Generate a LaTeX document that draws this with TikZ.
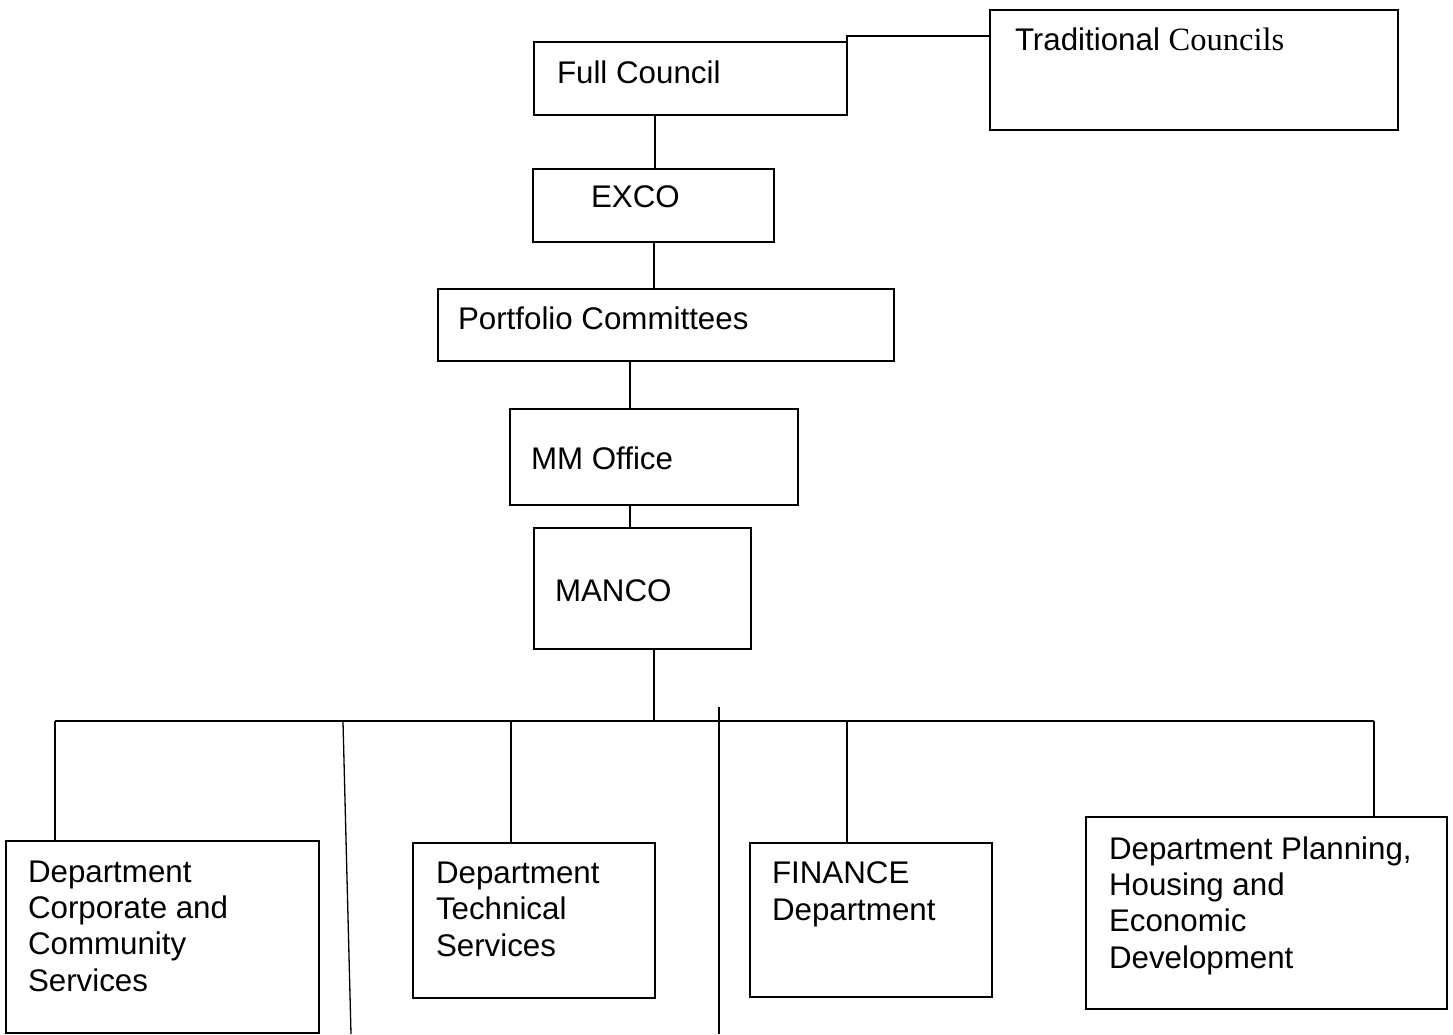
\documentclass[tikz,border=0pt]{standalone}
\usepackage{fontspec}
\setmainfont{Liberation Sans}
\newfontfamily\timesfont{Liberation Serif}
\begin{document}
\begin{tikzpicture}[x=1pt,y=-1pt,
  box/.style={draw,line width=1.8pt,inner sep=0pt,outer sep=0pt,anchor=north west},
  lbl/.style={inner sep=0pt,outer sep=0pt,anchor=base west,align=left,font=\fontsize{31.3}{36.3}\selectfont},
  wire/.style={line width=1.3pt}]
\path[use as bounding box] (0,0) rectangle (1453,1034);
% boxes
\node[box,minimum width=313pt,minimum height=73pt] (fullcouncil) at (534,42) {};
\node[box,minimum width=408pt,minimum height=120pt] (trad) at (990,10) {};
\node[box,minimum width=241pt,minimum height=73pt] (exco) at (533,169) {};
\node[box,minimum width=456pt,minimum height=72pt] (portfolio) at (438,289) {};
\node[box,minimum width=288pt,minimum height=96pt] (mmoffice) at (510,409) {};
\node[box,minimum width=217pt,minimum height=121pt] (manco) at (534,528) {};
\node[box,minimum width=313pt,minimum height=192pt] (corporate) at (6,841) {};
\node[box,minimum width=242pt,minimum height=155pt] (technical) at (413,843) {};
\node[box,minimum width=242pt,minimum height=154pt] (finance) at (750,843) {};
\node[box,minimum width=361pt,minimum height=192pt] (planning) at (1086,817) {};
% labels (multi-line ones sit on their last baseline)
\node[lbl] (fullcouncil-t) at (557,83) {Full Council};
\node[lbl] (trad-t) at (1015,50) {Traditional {\timesfont\fontsize{32.5}{36}\selectfont Councils}};
\node[lbl] (exco-t) at (591,207) {EXCO};
\node[lbl] (portfolio-t) at (458,329) {Portfolio Committees};
\node[lbl] (mmoffice-t) at (531,469) {MM Office};
\node[lbl] (manco-t) at (555,601) {MANCO};
\node[lbl] (corporate-t) at (28,991) {Department\\Corporate and\\Community\\Services};
\node[lbl] (technical-t) at (436,956) {Department\\Technical\\Services};
\node[lbl] (finance-t) at (772,920) {FINANCE\\Department};
\node[lbl] (planning-t) at (1109,968) {Department Planning,\\Housing and\\Economic\\Development};
% connectors
\coordinate (tc) at (847,36);
\draw[wire] (fullcouncil.north east) -- (tc) -- (tc -| trad.west);
\draw[wire] ([xshift=1.5pt]exco.north) -- ([xshift=1.5pt]exco.north |- fullcouncil.south);
\draw[wire] ([xshift=0.5pt]exco.south) -- ([xshift=0.5pt]exco.south |- portfolio.north);
\draw[wire] ([xshift=-24pt]mmoffice.north) -- ([xshift=-24pt]mmoffice.north |- portfolio.south);
\draw[wire] ([xshift=-12.5pt]manco.north) -- ([xshift=-12.5pt]manco.north |- mmoffice.south);
\coordinate (bus) at (654,721);
\draw[wire] ([xshift=11.5pt]manco.south) -- (bus);
\draw[wire] (55,721) -- (1374,721);
\foreach \x/\n in {55/corporate,511/technical,847/finance,1374/planning}
  \draw[wire] (\x,721) -- (\x,721 |- \n.north);
% loose lines
\coordinate (s1) at (343,722);
\coordinate (s2) at (351,1034);
\coordinate (s3) at (719,707);
\coordinate (s4) at (719,1034);
\draw[wire] (s1) -- (s2);
\draw[wire] (s3) -- (s4);
\end{tikzpicture}
\end{document}
